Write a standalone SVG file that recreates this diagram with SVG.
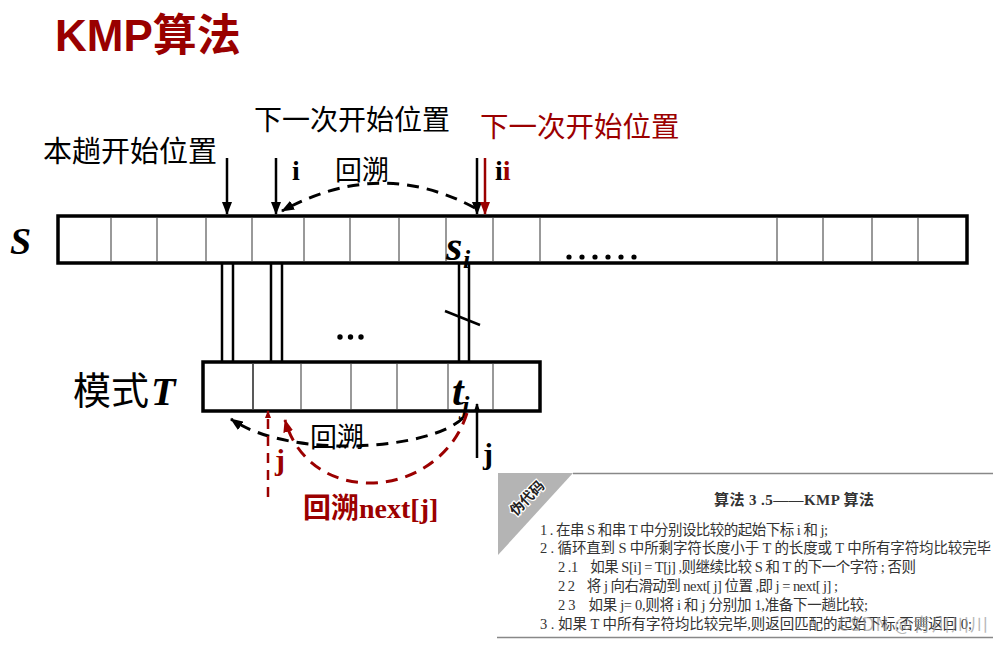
<svg xmlns="http://www.w3.org/2000/svg" width="1000" height="649" viewBox="0 0 1000 649">
<defs>
<style>
.box{fill:#fff;stroke:#000;stroke-width:3.5}
.div{stroke:#777;stroke-width:1.5}
.ln{stroke:#000;stroke-width:2.5;fill:none}
.rln{stroke:#9b0000;stroke-width:2.5;fill:none}
.dash{stroke:#000;stroke-width:3;fill:none;stroke-dasharray:12 8}
.rdash{stroke:#9b0000;stroke-width:3;fill:none;stroke-dasharray:12 8}
.cjk{font-family:"Noto Sans CJK SC","Liberation Sans",sans-serif}
.ser{font-family:"Liberation Serif","Noto Sans CJK SC",serif;font-weight:bold}
.it{font-family:"Liberation Serif",serif;font-weight:bold;font-style:italic}
.code{font-family:"Liberation Serif","Noto Sans CJK SC",serif;font-size:14.5px;fill:#333}
.red{fill:#9b0000}
</style>
<marker id="ah" markerUnits="userSpaceOnUse" markerWidth="13" markerHeight="10" refX="12" refY="5" orient="auto">
<path d="M0,0 L13,5 L0,10 z" fill="#000"/>
</marker>
<marker id="ahr" markerUnits="userSpaceOnUse" markerWidth="13" markerHeight="10" refX="12" refY="5" orient="auto">
<path d="M0,0 L13,5 L0,10 z" fill="#9b0000"/>
</marker>
<marker id="ahs" markerUnits="userSpaceOnUse" markerWidth="8" markerHeight="6" refX="7" refY="3" orient="auto">
<path d="M0,0 L8,3 L0,6 z" fill="#9b0000"/>
</marker>
<marker id="ahk" markerUnits="userSpaceOnUse" markerWidth="9" markerHeight="7" refX="8" refY="3.5" orient="auto">
<path d="M0,0 L9,3.5 L0,7 z" fill="#000"/>
</marker>
</defs>
<rect width="1000" height="649" fill="#fff"/>

<g id="title">
<text x="55" y="51" font-size="44" font-weight="bold" fill="#990000" font-family="Liberation Sans,Noto Sans CJK SC,sans-serif">KMP算法</text>
</g>

<g id="string-S">
<rect class="box" x="58" y="216" width="909" height="47"/>
<g class="div">
<line x1="111" y1="218" x2="111" y2="261"/>
<line x1="157" y1="218" x2="157" y2="261"/>
<line x1="206" y1="218" x2="206" y2="261"/>
<line x1="252" y1="218" x2="252" y2="261"/>
<line x1="304" y1="218" x2="304" y2="261"/>
<line x1="350" y1="218" x2="350" y2="261"/>
<line x1="399" y1="218" x2="399" y2="261"/>
<line x1="446" y1="218" x2="446" y2="261"/>
<line x1="493" y1="218" x2="493" y2="261"/>
<line x1="540" y1="218" x2="540" y2="261"/>
<line x1="777" y1="218" x2="777" y2="261"/>
<line x1="823" y1="218" x2="823" y2="261"/>
<line x1="872" y1="218" x2="872" y2="261"/>
<line x1="918" y1="218" x2="918" y2="261"/>
</g>
<g fill="#000">
<circle cx="569" cy="257" r="2.6"/><circle cx="582" cy="257" r="2.6"/><circle cx="595" cy="257" r="2.6"/><circle cx="608" cy="257" r="2.6"/><circle cx="621" cy="257" r="2.6"/><circle cx="634" cy="257" r="2.6"/>
</g>
<text class="it" x="10" y="254" font-size="38">S</text>
</g>

<g id="string-T">
<rect class="box" x="203" y="362" width="337" height="49"/>
<g class="div">
<line x1="253" y1="364" x2="253" y2="409" stroke="#222"/>
<line x1="301" y1="364" x2="301" y2="409"/>
<line x1="351" y1="364" x2="351" y2="409"/>
<line x1="397" y1="364" x2="397" y2="409"/>
<line x1="448" y1="364" x2="448" y2="409"/>
<line x1="493" y1="364" x2="493" y2="409"/>
</g>
<text x="73" y="404" font-size="38" class="cjk">模式</text>
<text class="it" x="151" y="405" font-size="40">T</text>
</g>

<g id="label-si">
<text class="it" x="446" y="260" font-size="42">s</text>
<text class="it" x="463" y="268" font-size="26">i</text>
</g>
<g id="label-tj">
<text class="it" x="452" y="405" font-size="42">t</text>
<text class="it" x="462" y="414" font-size="26">j</text>
</g>

<g id="labels-top">
<text x="43" y="162" font-size="29" class="cjk">本趟开始位置</text>
<text x="254" y="130" font-size="28" class="cjk">下一次开始位置</text>
<text x="480" y="137" font-size="28.5" class="cjk red">下一次开始位置</text>
<text class="ser" x="292" y="180" font-size="28">i</text>
<text x="335" y="180" font-size="27" class="cjk">回溯</text>
<text class="ser" x="495" y="180" font-size="28">i<tspan class="red">i</tspan></text>
</g>

<g id="labels-bottom">
<text x="310" y="447" font-size="27" class="cjk">回溯</text>
<text class="ser red" x="275" y="470" font-size="30">j</text>
<text class="ser" x="483" y="464" font-size="30">j</text>
<text class="ser red" x="303" y="518" font-size="28">回溯next[j]</text>
</g>

<g id="connectors">
<line class="ln" x1="227" y1="158" x2="227" y2="214" marker-end="url(#ah)"/>
<line class="ln" x1="276" y1="158" x2="276" y2="214" marker-end="url(#ah)"/>
<line class="ln" x1="477" y1="158" x2="477" y2="214" marker-end="url(#ah)"/>
<line class="rln" x1="485" y1="158" x2="485" y2="214" marker-end="url(#ahr)"/>
<path class="dash" d="M475,208 Q380,157 282,211" marker-end="url(#ah)"/>

<g class="ln">
<line x1="222" y1="264" x2="222" y2="361"/>
<line x1="233" y1="264" x2="233" y2="361"/>
<line x1="271" y1="264" x2="271" y2="361"/>
<line x1="282" y1="264" x2="282" y2="361"/>
<line x1="459" y1="264" x2="459" y2="361"/>
<line x1="469" y1="264" x2="469" y2="361"/>
<line x1="445" y1="311" x2="480" y2="325"/>
</g>
<g fill="#000">
<circle cx="340" cy="337" r="2.7"/><circle cx="350.5" cy="337" r="2.7"/><circle cx="361" cy="337" r="2.7"/>
</g>

<path class="dash" d="M463,418 C430,450 290,460 231,419" marker-end="url(#ah)"/>
<path class="rdash" d="M467,413 C440,500 310,510 285,420" marker-end="url(#ahr)"/>
<line class="rln" x1="268" y1="497" x2="268" y2="411" stroke-dasharray="10 7" marker-end="url(#ahs)"/>
<line class="ln" x1="477" y1="458" x2="477" y2="404" marker-end="url(#ahk)"/>
</g>

<g id="pseudocode">
<line x1="573" y1="473.5" x2="993" y2="473.5" stroke="#888" stroke-width="1.5"/>
<line x1="497" y1="637.5" x2="993" y2="637.5" stroke="#888" stroke-width="1.5"/>
<polygon points="498,473 573,473 498,555" fill="#b4b4b4"/>
<text x="527" y="503" font-size="14" font-weight="bold" transform="rotate(-45 527 498)" text-anchor="middle" fill="#222" stroke="#fff" stroke-width="2.5" paint-order="stroke" class="cjk">伪代码</text>
<text x="794" y="505" font-size="15" font-weight="bold" text-anchor="middle" fill="#333" font-family="Liberation Serif,Noto Sans CJK SC,serif" textLength="160" lengthAdjust="spacing">算法 3 .5——KMP 算法</text>
<text class="code" x="540" y="535" textLength="288" lengthAdjust="spacing">1 . 在串 S 和串 T 中分别设比较的起始下标 i 和 j;</text>
<text class="code" x="540" y="553" textLength="451" lengthAdjust="spacing">2 . 循环直到 S 中所剩字符长度小于 T 的长度或 T 中所有字符均比较完毕</text>
<text class="code" x="558" y="572" textLength="358" lengthAdjust="spacing" xml:space="preserve">2 .1    如果 S[i] = T[j] ,则继续比较 S 和 T 的下一个字符 ; 否则</text>
<text class="code" x="558" y="591" textLength="280" lengthAdjust="spacing" xml:space="preserve">2 2    将 j 向右滑动到 next[ j] 位置 ,即 j = next[ j] ;</text>
<text class="code" x="558" y="610" textLength="310" lengthAdjust="spacing" xml:space="preserve">2 3    如果 j= 0,则将 i 和 j 分别加 1,准备下一趟比较;</text>
<text class="code" x="540" y="629" textLength="432" lengthAdjust="spacing">3 . 如果 T 中所有字符均比较完毕,则返回匹配的起始下标;否则返回 0;</text>
<text x="838" y="631" font-size="18" fill="#999" fill-opacity="0.7" class="cjk" textLength="150" lengthAdjust="spacing">CSDN @青川川川</text>
</g>
</svg>
